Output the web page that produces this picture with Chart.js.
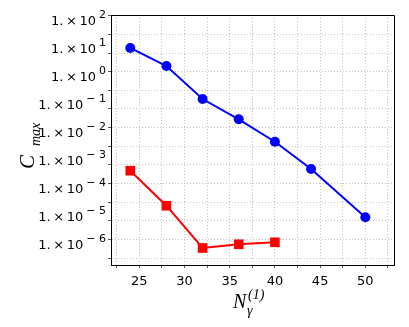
<!DOCTYPE html>
<html><head><meta charset="utf-8">
<script src="https://cdn.jsdelivr.net/npm/chart.js@4"></script>
<style>html,body{margin:0;padding:0;background:#fff}#wrap{width:409px;height:327px}</style>
</head><body><div id="wrap"><canvas id="c" width="409" height="327"></canvas></div>
<script>
// ---- data ----
const nGammaBlue = [24, 28, 32, 36, 40, 44, 50];
const cmaxBlue   = [15.2, 3.44, 0.227, 0.0426, 0.00673, 7.1e-4, 1.33e-5];
const nGammaRed  = [24, 28, 32, 36, 40];
const cmaxRed    = [6.18e-4, 3.45e-5, 1.06e-6, 1.44e-6, 1.69e-6];
const xTickLabels = [25, 30, 35, 40, 45, 50];
const yTickExponents = [2, 1, 0, -1, -2, -3, -4, -5, -6];

const X_MIN = 21.87, X_MAX = 53.17;
const Y_MIN = 2.61e-7, Y_MAX = 229.8;

const toPts = (xs, ys) => xs.map((x, i) => ({x: x, y: ys[i]}));

const labelFont = '"DejaVu Sans", sans-serif';
const serif = '"Liberation Serif", "DejaVu Serif", serif';

const decorPlugin = {
  id: 'decor',
  afterDraw(chart) {
    const ctx = chart.ctx;
    const a = chart.chartArea;
    const ys = chart.scales.y;
    ctx.save();
    // frame top/right
    ctx.strokeStyle = '#000';
    ctx.lineWidth = 1;
    ctx.beginPath();
    ctx.moveTo(a.left, a.top + 0.5);
    ctx.lineTo(a.right + 0.5, a.top + 0.5);
    ctx.lineTo(a.right + 0.5, a.bottom);
    ctx.stroke();

    // y tick labels with superscripts
    ctx.fillStyle = '#000';
    ctx.textBaseline = 'middle';
    const rightEdge = 106;
    yTickExponents.forEach(e => {
      const y = ys.getPixelForValue(Math.pow(10, e));
      const sup = e < 0 ? '\u2212 ' + Math.abs(e) : String(e);
      ctx.font = '11px ' + labelFont;
      ctx.textAlign = 'right';
      const supW = ctx.measureText(sup).width;
      ctx.fillText(sup, rightEdge, y - 10);
      ctx.font = '13px ' + labelFont;
      ctx.fillText('1.\u2009\u00d7\u200910', rightEdge - supW - 3, y - 3.5);
    });

    // y axis title  C_max (rotated)
    ctx.textAlign = 'left';
    ctx.textBaseline = 'alphabetic';
    ctx.save();
    ctx.translate(33.5, 169);
    ctx.rotate(-Math.PI / 2);
    ctx.font = 'italic 21px ' + serif;
    ctx.fillText('C', 0, 0);
    ctx.font = 'italic 14px ' + serif;
    ctx.fillText('max', 23, 6.5);
    ctx.restore();

    // x axis title  N_gamma^(1)
    ctx.font = 'italic 20px ' + serif;
    ctx.fillText('N', 233, 307.5);
    ctx.font = 'italic 14px ' + serif;
    ctx.fillText('\u03b3', 247, 314.5);
    ctx.fillText('(1)', 248, 299);
    ctx.restore();
  }
};

new Chart(document.getElementById('c'), {
  type: 'line',
  data: {
    datasets: [
      {
        data: toPts(nGammaBlue, cmaxBlue),
        borderColor: '#0000ff', backgroundColor: '#0000ff',
        borderWidth: 2, pointStyle: 'circle', pointRadius: 5,
        pointBorderWidth: 0, tension: 0
      },
      {
        data: toPts(nGammaRed, cmaxRed),
        borderColor: '#ff0000', backgroundColor: '#ff0000',
        borderWidth: 2, pointStyle: 'rect', pointRadius: 6.8,
        pointBorderWidth: 0, tension: 0
      }
    ]
  },
  options: {
    responsive: false,
    animation: false,
    devicePixelRatio: 1,
    layout: { padding: { left: 0, right: 15, top: 15, bottom: 0 } },
    plugins: { legend: { display: false }, tooltip: { enabled: false } },
    scales: {
      x: {
        type: 'linear', min: X_MIN, max: X_MAX,
        afterBuildTicks: s => {
          const t = [];
          for (let v = 22.5; v <= 52.5; v += 2.5) t.push({ value: v });
          s.ticks = t;
        },
        afterFit: s => { s.height = 62; },
        ticks: {
          autoSkip: false, maxRotation: 0, padding: 6, color: '#000',
          font: { family: labelFont, size: 13 },
          callback: v => xTickLabels.includes(v) ? String(v) : ''
        },
        grid: { color: '#c4c4c4', lineWidth: 1, drawTicks: true, tickLength: 3,
                tickColor: '#555', tickBorderDash: [] },
        border: { display: true, color: '#000', width: 1, dash: [1, 2] }
      },
      y: {
        type: 'logarithmic', min: Y_MIN, max: Y_MAX,
        afterBuildTicks: s => {
          const t = [];
          for (let k = -19; k <= 7; k++) t.push({ value: Math.pow(10, k / 3) });
          s.ticks = t;
        },
        afterFit: s => { s.width = 111; },
        ticks: { callback: () => '', padding: 0 },
        grid: { color: '#c4c4c4', lineWidth: 1, drawTicks: true, tickLength: 3,
                tickColor: '#555', tickBorderDash: [] },
        border: { display: true, color: '#000', width: 1, dash: [1, 2] }
      }
    }
  },
  plugins: [decorPlugin]
});
</script>
</body></html>
